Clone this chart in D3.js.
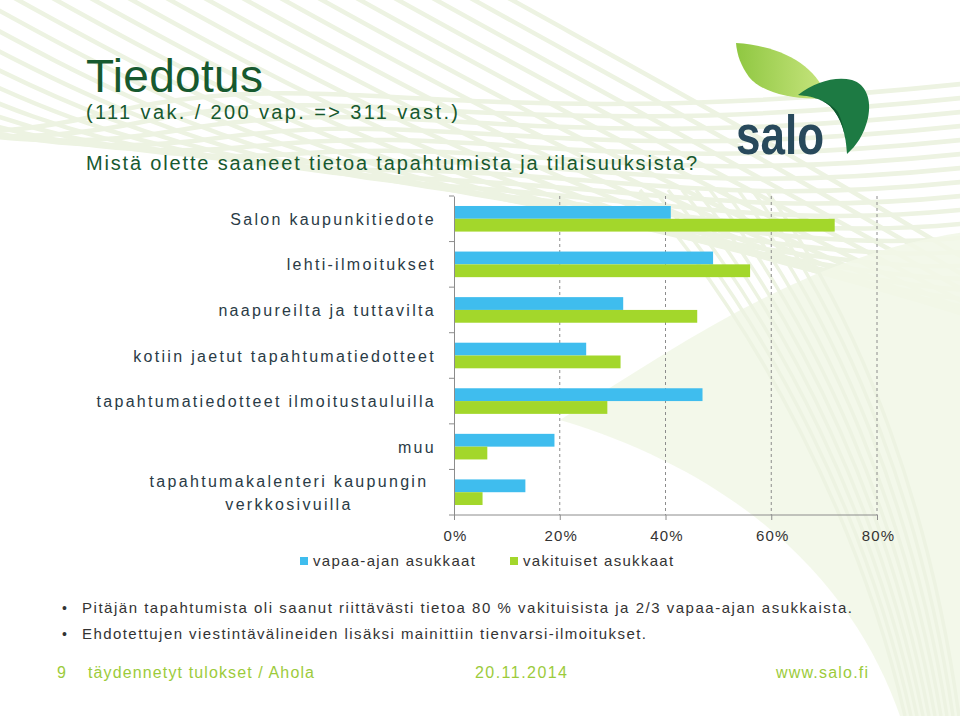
<!DOCTYPE html>
<html><head><meta charset="utf-8">
<script src="https://cdn.jsdelivr.net/npm/d3@7/dist/d3.min.js"></script>
<style>
html,body{margin:0;padding:0;background:#fff;}
svg{display:block;font-family:"Liberation Sans",Arial,sans-serif;}
</style></head>
<body>
<svg id="c" width="960" height="716"></svg>
<script>
const categories = ["Salon kaupunkitiedote","lehti-ilmoitukset","naapureilta ja tuttavilta","kotiin jaetut tapahtumatiedotteet","tapahtumatiedotteet ilmoitustauluilla","muu","tapahtumakalenteri kaupungin|verkkosivuilla"];
const seriesNames = ["vapaa-ajan asukkaat","vakituiset asukkaat"];
const vapaa = [41, 49, 32, 25, 47, 19, 13.5];
const vakituiset = [72, 56, 46, 31.5, 29, 6.3, 5.4];
const tickValues = [0, 20, 40, 60, 80];
const colors = ["#3fbdee", "#a3d72b"];

const svg = d3.select("#c");

// background decoration
const deco = svg.append("g");
const stroke = "#edf3e2";
for (let i = -12; i < 14; i++) {
  const x0 = i * 38;
  deco.append("path")
    .attr("d", `M${x0},-10 C${x0+180},90 ${x0+330},170 ${x0+560},${210+i*8} S ${x0+900},${260+i*10} 980,${250+i*14}`)
    .attr("fill","none").attr("stroke",stroke).attr("stroke-width",4.5);
}
deco.append("path")
  .attr("d","M560,420 C700,330 820,250 980,230 L980,716 L900,716 C860,600 760,480 560,420 Z")
  .attr("fill","#f2f7e8").attr("opacity",0.9);
for (let i = 0; i < 10; i++) {
  deco.append("path")
    .attr("d",`M${640+i*14},${190} C${760+i*12},${330} ${860+i*8},${520} ${905+i*6},716`)
    .attr("fill","none").attr("stroke",stroke).attr("stroke-width",3.5);
}

// logo
const defs = svg.append("defs");
const lg = defs.append("linearGradient").attr("id","leaf").attr("x1","0").attr("x2","1").attr("y1","0").attr("y2","0");
lg.append("stop").attr("offset","0").attr("stop-color","#8fc741");
lg.append("stop").attr("offset","1").attr("stop-color","#c8e57f");
svg.append("path").attr("d","M736,43 C785,46 818,68 827,98 C795,101 762,93 749,77 C741,66 737,55 736,43 Z").attr("fill","url(#leaf)");
svg.append("path").attr("d","M798,95 C815,82 835,76 852,80 C866,84 872,100 868,118 C864,135 856,146 847,154 C846,135 842,118 830,106 C820,98 810,96 798,95 Z").attr("fill","#1d7a43");
svg.append("path").attr("d","M798,95 C815,96 830,102 838,112 C844,125 846,140 847,154 C846,135 842,118 830,106 C820,98 810,96 798,95 Z").attr("fill","#0f5a30");
svg.append("text").attr("x",736).attr("y",154).attr("font-size",56).attr("font-weight","bold")
  .attr("fill","#28495c").attr("textLength",88).attr("lengthAdjust","spacingAndGlyphs").text("salo");

// titles
svg.append("text").attr("x",86).attr("y",92).attr("font-size",46).attr("fill","#17592f")
  .attr("textLength",177).attr("lengthAdjust","spacing").text("Tiedotus");
svg.append("text").attr("x",86).attr("y",119).attr("font-size",20).attr("fill","#17592f")
  .attr("textLength",372).attr("lengthAdjust","spacing").text("(111 vak. / 200 vap. => 311 vast.)");
svg.append("text").attr("x",86).attr("y",170).attr("font-size",20).attr("fill","#17592f")
  .attr("textLength",611).attr("lengthAdjust","spacing").text("Mistä olette saaneet tietoa tapahtumista ja tilaisuuksista?");

// chart
const x = d3.scaleLinear().domain([0, 80]).range([454, 877]);
const y = d3.scaleBand().domain(categories).range([196, 515]);
const ys = d3.scaleBand().domain(seriesNames).range([0, y.bandwidth()]).paddingOuter(0.78);

const g = svg.append("g");
g.selectAll("line.grid").data(tickValues.slice(1)).join("line")
  .attr("x1",d=>x(d)).attr("x2",d=>x(d)).attr("y1",196).attr("y2",515)
  .attr("stroke","#8c8c8c").attr("stroke-width",1).attr("stroke-dasharray","3,3");

const data = categories.map((c,i)=>({c, vals:[vapaa[i], vakituiset[i]]}));
const grp = g.selectAll("g.cat").data(data).join("g").attr("transform",d=>`translate(0,${y(d.c)})`);
grp.selectAll("rect").data(d=>d.vals.map((v,k)=>({v,k}))).join("rect")
  .attr("x",x(0)).attr("y",d=>ys(seriesNames[d.k])).attr("height",ys.bandwidth())
  .attr("width",d=>x(d.v)-x(0)).attr("fill",d=>colors[d.k]);

const yAxis = d3.axisLeft(y).tickSize(0).tickFormat("");
const ya = g.append("g").attr("transform",`translate(${x(0)},0)`).call(yAxis);
ya.select(".domain").attr("stroke","#8c8c8c");
const bounds = categories.map(c=>y(c)).concat([515]);
g.selectAll("line.yt").data(bounds).join("line")
  .attr("x1",x(0)-5).attr("x2",x(0)).attr("y1",d=>d).attr("y2",d=>d).attr("stroke","#8c8c8c");

categories.forEach(c=>{
  const parts = c.split("|");
  const cy = y(c) + y.bandwidth()/2;
  if (parts.length === 1) {
    svg.append("text").attr("x",436).attr("y",cy+6).attr("text-anchor","end")
      .attr("font-size",16).attr("letter-spacing",2.3).attr("fill","#2a3b46").text(parts[0]);
  } else {
    parts.forEach((p,j)=>{
      svg.append("text").attr("x",289).attr("y",cy+6+(j-0.5)*23).attr("text-anchor","middle")
        .attr("font-size",16).attr("letter-spacing",2.3).attr("fill","#2a3b46").text(p);
    });
  }
});

const xAxis = d3.axisBottom(x).tickValues(tickValues).tickFormat(d=>d+"%").tickSize(5).tickPadding(10);
const xa = g.append("g").attr("transform","translate(0,515)").call(xAxis);
xa.select(".domain").attr("stroke","#8c8c8c").attr("d","M454,0H877");
xa.selectAll(".tick line").attr("stroke","#8c8c8c");
xa.selectAll(".tick text").attr("font-size",15).attr("font-family","Liberation Sans, Arial, sans-serif")
  .attr("fill","#333").attr("letter-spacing",1.2).attr("dx",1);

const legX = [300, 510];
seriesNames.forEach((s,i)=>{
  svg.append("rect").attr("x",legX[i]).attr("y",557).attr("width",8).attr("height",8).attr("fill",colors[i]);
  svg.append("text").attr("x",legX[i]+13).attr("y",566).attr("font-size",15).attr("fill","#333")
    .attr("letter-spacing",1.3).text(s);
});

const bullets = [
  ["Pitäjän tapahtumista oli saanut riittävästi tietoa 80 % vakituisista ja 2/3 vapaa-ajan asukkaista.", 770],
  ["Ehdotettujen viestintävälineiden lisäksi mainittiin tienvarsi-ilmoitukset.", 564]
];
bullets.forEach((b,i)=>{
  const yy = 613 + i*26;
  svg.append("text").attr("x",62).attr("y",yy).attr("font-size",14).attr("fill","#333").text("•");
  svg.append("text").attr("x",82).attr("y",yy).attr("font-size",15).attr("fill","#333")
    .attr("textLength",b[1]).attr("lengthAdjust","spacing").text(b[0]);
});

const fc = "#9ccb3b";
[["9",57,9],["täydennetyt tulokset / Ahola",88,226],["20.11.2014",475,92],["www.salo.fi",776,92]].forEach(f=>{
  svg.append("text").attr("x",f[1]).attr("y",678).attr("font-size",16).attr("fill",fc)
    .attr("textLength",f[2]).attr("lengthAdjust","spacing").text(f[0]);
});
</script>
</body></html>
